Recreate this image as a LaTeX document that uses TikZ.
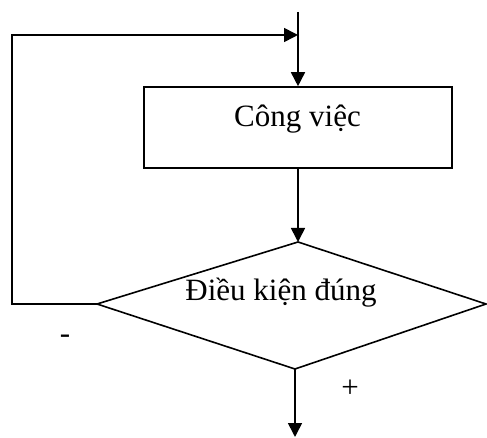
\documentclass[tikz,border=0pt]{standalone}
\usepackage{fontspec}
\setmainfont{Liberation Serif}
\usetikzlibrary{arrows.meta}
\begin{document}
\begin{tikzpicture}[x=1pt,y=-1pt,
  line/.style={line width=1.6pt},
  arr/.style={line, -{Triangle[length=14pt,width=14pt]}},
  lbl/.style={inner sep=0pt, font=\fontsize{31}{36}\selectfont, anchor=base},
  sgn/.style={inner sep=0pt, font=\fontsize{31}{36}\selectfont}]
\useasboundingbox (0,0) rectangle (487,438);
% box
\node[draw, line, minimum width=308pt, minimum height=81pt, inner sep=0pt] (box) at (298,127.5) {};
\node[lbl] (boxt) at (297.5,127) {Công việc};
% diamond
\coordinate (dt) at (298,242);
\coordinate (dl) at (97,304);
\coordinate (dr) at (486,304);
\coordinate (db) at (295,369);
\draw[line, line join=miter] (dt) -- (dr) -- (db) -- (dl) -- cycle;
\node[lbl] (dtext) at (281,300) {Điều kiện đúng};
% connectors
\coordinate (start) at (298,12);
\coordinate (join) at (298,35);
\coordinate (lc) at (12,304);
\coordinate (tc) at (12,35);
\coordinate (endp) at (295,437);
\draw[arr] (start) -- (box.north -| start);
\draw[arr] (box.south -| dt) -- (dt);
\draw[arr] (dl) -- (lc) -- (tc) -- (join);
\draw[arr] (db) -- (endp);
\node[sgn] (minus) at (65,339) {-};
\node[sgn] (plus) at (350,389) {+};
\end{tikzpicture}
\end{document}
